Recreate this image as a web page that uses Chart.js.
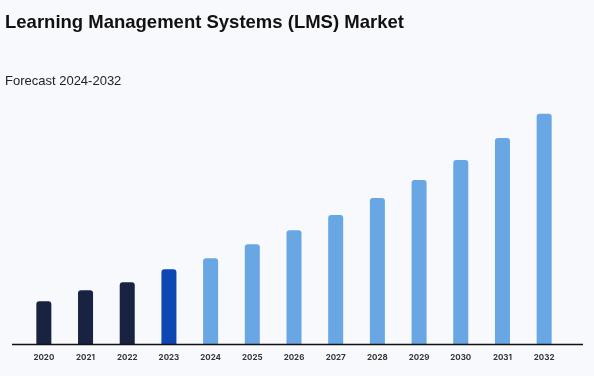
<!DOCTYPE html>
<html>
<head>
<meta charset="utf-8">
<script src="https://cdn.jsdelivr.net/npm/chart.js@4"></script>
<style>
  html, body { margin: 0; padding: 0; background: #f8f9fd; }
  #wrap { width: 594px; height: 376px; }
</style>
</head>
<body>
<div id="wrap"><canvas id="lmsChart" width="594" height="376"></canvas></div>
<script>
const years = ['2020', '2021', '2022', '2023', '2024', '2025', '2026', '2027', '2028', '2029', '2030', '2031', '2032'];
const marketSize = [4.3, 5.4, 6.2, 7.5, 8.6, 10.0, 11.4, 12.9, 14.6, 16.4, 18.4, 20.6, 23.0];
const barColors = ['#172340', '#172340', '#172340', '#0d47b4', '#68a6e4', '#68a6e4', '#68a6e4', '#68a6e4', '#68a6e4', '#68a6e4', '#68a6e4', '#68a6e4', '#68a6e4'];

// baseline runs a little wider than the bar area
const baseline = {
    id: 'baseline',
    afterDatasetsDraw(chart) {
        const ctx = chart.ctx;
        const y = chart.scales.y.getPixelForValue(0);
        ctx.save();
        ctx.strokeStyle = '#111111';
        ctx.lineWidth = 1.5;
        ctx.beginPath();
        ctx.moveTo(chart.chartArea.left - 11, y);
        ctx.lineTo(chart.chartArea.right + 18, y);
        ctx.stroke();
        ctx.restore();
    }
};

var lmsChart = document.getElementById('lmsChart').getContext('2d');

new Chart(lmsChart, {
    type: 'bar',
    data: {
        labels: years,
        datasets: [{
            label: 'LMS Market',
            data: marketSize,
            backgroundColor: barColors,
            borderWidth: 0,
            borderRadius: { topLeft: 3, topRight: 3 },
            borderSkipped: 'bottom',
            barPercentage: 0.36,
            categoryPercentage: 1
        }]
    },
    options: {
        responsive: false,
        animation: false,
        layout: {
            padding: { left: 5, right: 29, top: 0, bottom: 6 }
        },
        plugins: {
            legend: { display: false },
            tooltip: { enabled: false },
            title: {
                display: true,
                text: 'Learning Management Systems (LMS) Market',
                align: 'start',
                color: '#111111',
                font: { family: 'Liberation Sans, Arial, sans-serif', size: 18.5, weight: 'bold' },
                padding: { top: 12, bottom: 39 }
            },
            subtitle: {
                display: true,
                text: 'Forecast 2024-2032',
                align: 'start',
                color: '#222222',
                font: { family: 'Liberation Sans, Arial, sans-serif', size: 13 },
                padding: { top: 0, bottom: 5 }
            }
        },
        scales: {
            x: {
                grid: { display: false, drawTicks: false },
                border: { display: false },
                ticks: {
                    color: '#333333',
                    padding: 8,
                    maxRotation: 0,
                    font: { family: 'Inter, sans-serif', size: 8, weight: 'bold' }
                }
            },
            y: {
                min: 0,
                max: 25,
                grid: { display: false, drawTicks: false },
                border: { display: false },
                ticks: { display: false },
                afterFit(scale) { scale.width = 18; }
            }
        }
    },
    plugins: [baseline]
});
</script>
</body>
</html>
